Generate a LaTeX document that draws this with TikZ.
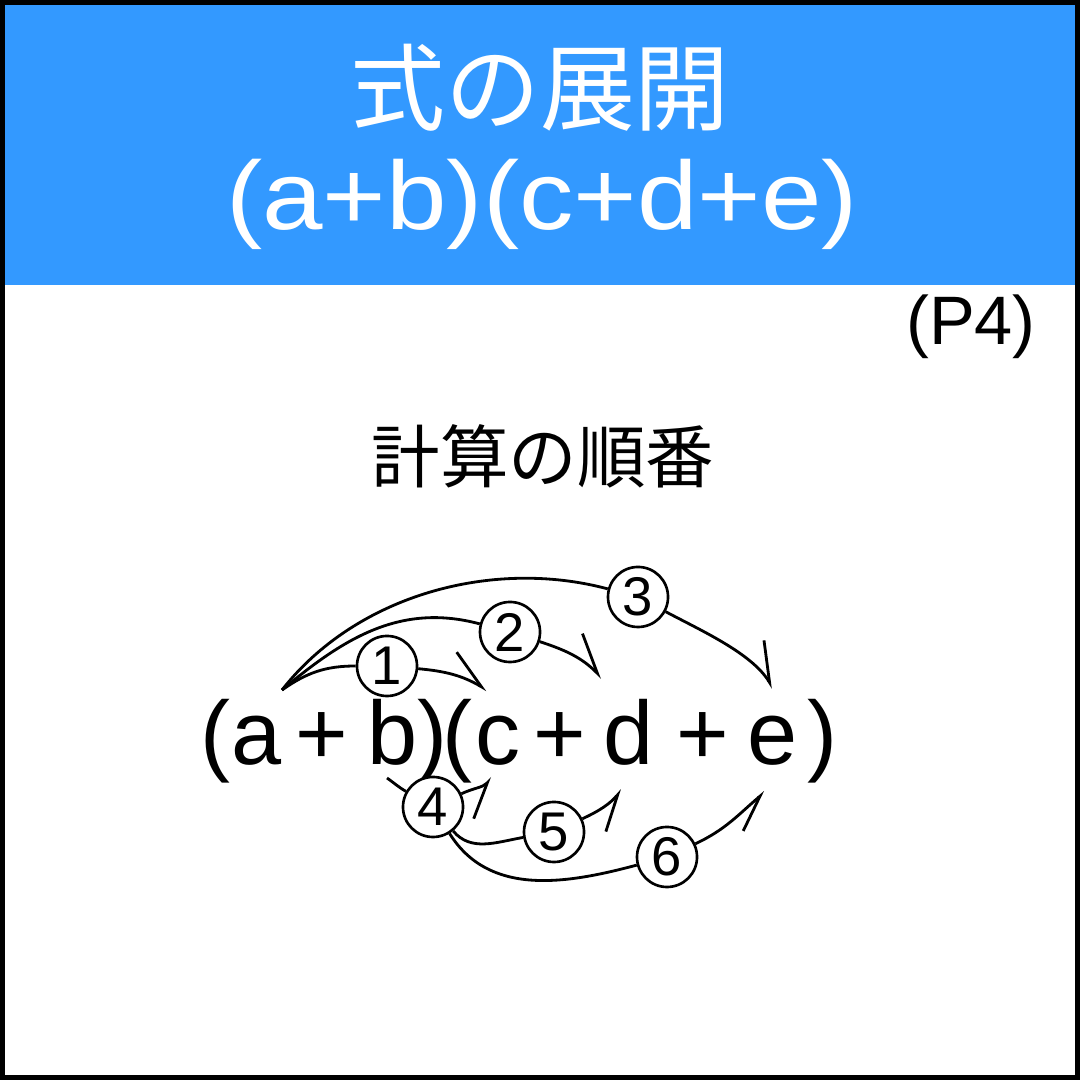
\documentclass[tikz,border=0pt]{standalone}
\usepackage{fontspec}
\setmainfont{Liberation Sans}
\newfontfamily\jpfont{Noto Sans CJK JP}
\usetikzlibrary{arrows.meta}
\definecolor{headblue}{HTML}{3399FF}
\tikzstyle{header} = [fill=headblue]
\tikzstyle{frame} = [draw=black, line width=1.4pt]
\tikzstyle{headtext} = [text=white, font=\jpfont\fontsize{27}{32}\selectfont]
\tikzstyle{headmath} = [text=white, font=\fontsize{27.6}{32}\selectfont]
\tikzstyle{pageno} = [font=\fontsize{19.5}{24}\selectfont]
\tikzstyle{subtitle} = [font=\jpfont\fontsize{19.5}{24}\selectfont]
\tikzstyle{term} = [anchor=base, inner sep=0pt, font=\fontsize{25.6}{30}\selectfont]
\tikzstyle{ordinal} = [circle, draw, fill=white, line width=0.75pt, minimum size=0.6cm, inner sep=0pt, font=\fontsize{15.5}{18}\selectfont]
\tikzstyle{over} = [thick, -{Straight Barb[harpoon, length=11pt, width=10pt]}]
\tikzstyle{under} = [thick, -{Straight Barb[harpoon, swap, length=10pt, width=9pt]}]

\begin{document}
\begin{tikzpicture}[x=0.01cm, y=0.01cm]
  \useasboundingbox (0,0) rectangle (1080,1080);
  \fill [header] (0,795) rectangle (1080,1080);
  \draw [frame] (2.5,2.5) rectangle (1077.5,1077.5);
  \node (heading) [headtext] at (540,992) {式の展開};
  \node (headexpr) [headmath] at (542,876) {\scalebox{1.12}[1]{(a+b)(c+d+e)}};
  \node (page) [pageno] at (971,753) {(P4)};
  \node (order) [subtitle] at (543,624) {計算の順番};

  \node (lpa) [term] at (215,315) {(};
  \node (a) [term] at (257,315) {a};
  \node (plusab) [term] at (322,315) {+};
  \node (b) [term] at (393,315) {b};
  \node (rpa) [term] at (432,315) {)};
  \node (lpc) [term] at (457,315) {(};
  \node (c) [term] at (498,315) {c};
  \node (pluscd) [term] at (560,315) {+};
  \node (d) [term] at (629,315) {d};
  \node (plusde) [term] at (703,315) {+};
  \node (e) [term] at (773,315) {e};
  \node (rpc) [term] at (822,315) {)};

  \node (one) [ordinal] at (387,414) {1};
  \node (two) [ordinal] at (510,448) {2};
  \node (three) [ordinal] at (638,483) {3};
  \node (four) [ordinal] at (433,273) {4};
  \node (five) [ordinal] at (554,248) {5};
  \node (six) [ordinal] at (667,223) {6};

  \coordinate (atop) at (282,390);
  \coordinate (ctop) at (487,390);
  \coordinate (dtop) at (602,402);
  \coordinate (etop) at (773,392);
  \coordinate (bbot) at (387,302);
  \coordinate (cbot) at (492,302);
  \coordinate (dbot) at (622,290);
  \coordinate (ebot) at (765,288);

  \draw [over] (atop) to[out=35, in=180] (one) to[out=-5, in=150] (ctop);
  \draw [over] (atop) to[out=40, in=165] (two) to[out=-18, in=135] (dtop);
  \draw [over] (atop) to[out=52, in=165, looseness=0.9] (three) to[out=-28, in=122, looseness=0.8] (etop);
  \draw [under] (bbot) to[out=-35, in=150] (four) to[out=25, in=225] (cbot);
  \draw [under] (four) to[out=-50, in=190] (five) to[out=25, in=228] (dbot);
  \draw [under] (four) to[out=-58, in=195] (six) to[out=25, in=220] (ebot);
\end{tikzpicture}
\end{document}
